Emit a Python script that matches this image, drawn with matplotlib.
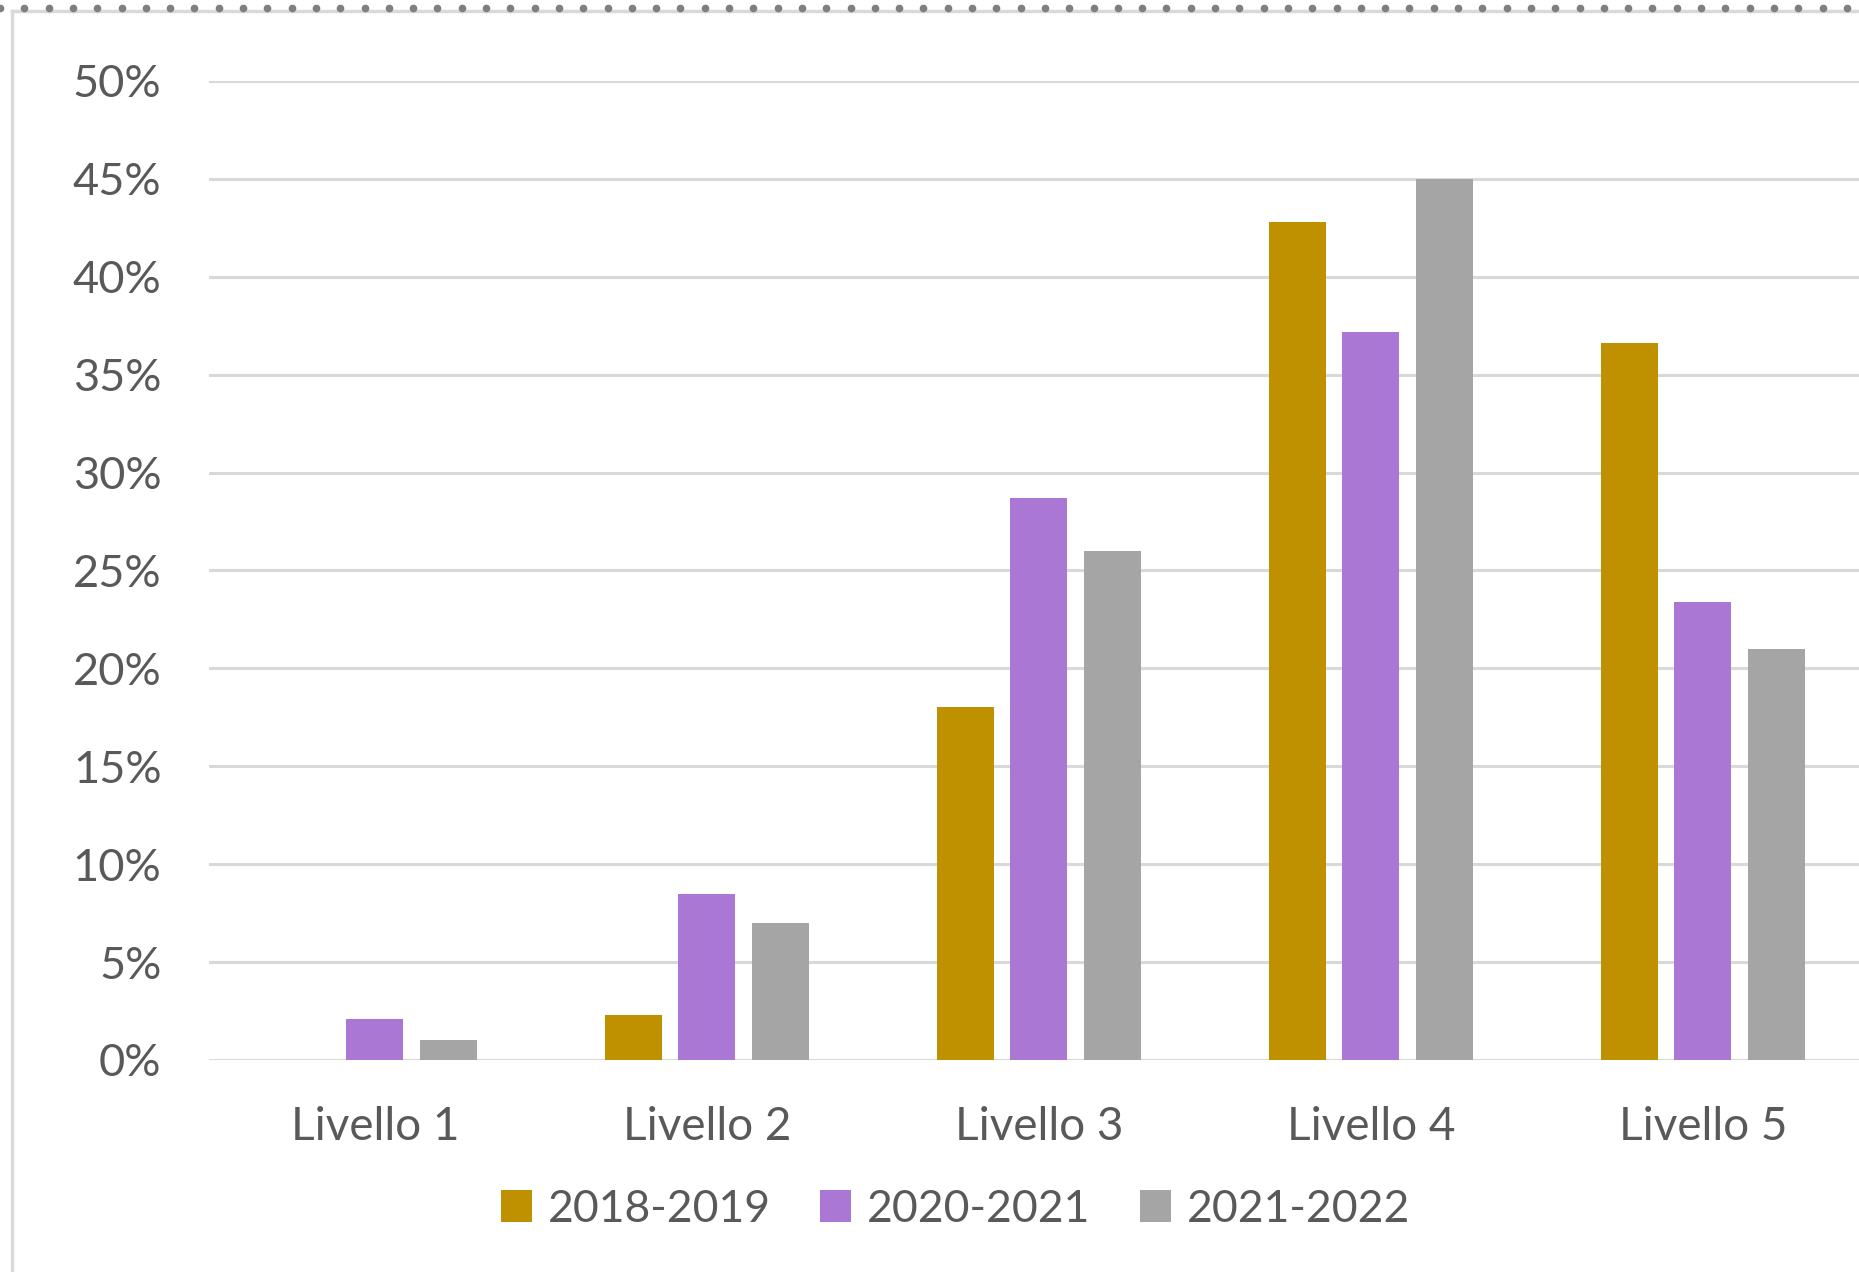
import numpy as np
import matplotlib.pyplot as plt
from matplotlib.lines import Line2D
from matplotlib.ticker import FuncFormatter

categories = ["Livello 1", "Livello 2", "Livello 3", "Livello 4", "Livello 5"]
series_names = ["2018-2019", "2020-2021", "2021-2022"]
val_2018 = [0.0, 0.023, 0.180, 0.428, 0.366]
val_2020 = [0.021, 0.085, 0.287, 0.372, 0.234]
val_2021 = [0.010, 0.070, 0.260, 0.450, 0.210]
colors = ["#BF9000", "#AB77D4", "#A5A5A5"]

plt.rcParams['font.family'] = ['Lato', 'DejaVu Sans']
text_color = "#595959"

fig = plt.figure(figsize=(18.59, 12.72), dpi=100)
ax = fig.add_axes([0.1123, 0.1667, 0.893, 0.7697])

x = np.arange(len(categories))
width = 0.171
step = 0.221
for i, (vals, name, col) in enumerate(zip([val_2018, val_2020, val_2021], series_names, colors)):
    ax.bar(x + (i - 1) * step, vals, width, color=col, label=name, zorder=3)

ax.set_xlim(-0.5, len(categories) - 0.5)
ax.set_ylim(0, 0.5)
ax.set_yticks(np.arange(0, 0.51, 0.05))
ax.yaxis.set_major_formatter(FuncFormatter(lambda v, p: f"{v*100:.0f}%"))
ax.set_xticks(x)
ax.set_xticklabels(categories)
ax.grid(axis="y", color="#D9D9D9", linewidth=2.2, zorder=0)
ax.set_axisbelow(True)
for s in ax.spines.values():
    s.set_visible(False)
ax.tick_params(axis="y", length=0, labelsize=32.5, labelcolor=text_color, pad=34)
ax.tick_params(axis="x", length=0, labelsize=33, labelcolor=text_color, pad=33)

leg = fig.legend(loc="center", bbox_to_anchor=(0.514, 0.0495), ncol=3, frameon=False,
                 fontsize=32, handlelength=0.7, handleheight=0.7, handletextpad=0.35,
                 columnspacing=1.12, labelcolor=text_color)

# chart border and selection dots
fig.add_artist(Line2D([12 / 1859, 12 / 1859], [0, 1 - 11 / 1272], color="#D9D9D9", linewidth=2.5))
fig.add_artist(Line2D([12 / 1859, 1], [1 - 11 / 1272, 1 - 11 / 1272], color="#D9D9D9", linewidth=2.5))
dots_x = np.arange(0, 1859, 24.3) / 1859
fig.add_artist(Line2D(dots_x, np.full(len(dots_x), 1 - 8 / 1272), linestyle="none", marker="o",
                      markersize=4.5, color="#7F7F7F"))

fig.savefig("out.png", dpi=100)
